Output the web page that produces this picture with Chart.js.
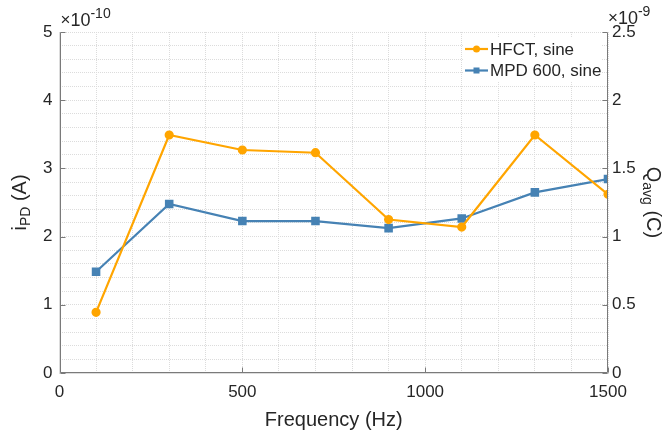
<!DOCTYPE html>
<html>
<head>
<meta charset="utf-8">
<script src="https://cdn.jsdelivr.net/npm/chart.js@4/dist/chart.umd.min.js"></script>
<style>
  html, body { margin: 0; padding: 0; background: #fff; }
</style>
</head>
<body>
<canvas id="chart" width="671" height="432"></canvas>
<script>
/* frequencies (Hz) */
const freqs = [100, 300, 500, 700, 900, 1100, 1300, 1500];
/* HFCT, sine: i_PD in units of 1e-10 A (left axis) */
const hfctValues = [0.89, 3.49, 3.27, 3.23, 2.25, 2.14, 3.49, 2.62];
/* MPD 600, sine: Q_avg in units of 1e-9 C (right axis) */
const mpdValues = [0.742, 1.239, 1.114, 1.114, 1.062, 1.133, 1.324, 1.422];

const seriesNames = ["HFCT, sine", "MPD 600, sine"];
const colors = { hfct: "#FFA500", mpd: "#4682B4" };

const FONT = "'Liberation Sans', Arial, sans-serif";
const TXT = "#262626";
const GRID = "#dcdcdc";
const AXIS = "#7a7a7a";

const isMult = (v, m) => Math.abs(v / m - Math.round(v / m)) < 1e-6;

/* draws axis lines, subscripts, exponents, inward ticks and the legend */
const extras = {
    id: "extras",
    afterDraw(chart) {
        const { ctx, chartArea: a, scales } = chart;
        ctx.save();
        ctx.fillStyle = TXT;
        ctx.textBaseline = "alphabetic";

        // solid axis lines + inward major ticks
        const L = Math.round(a.left) + 0.5, R = Math.round(a.right) - 0.5;
        const B = Math.round(a.bottom) - 0.5, T = Math.round(a.top) + 0.5;
        ctx.strokeStyle = AXIS;
        ctx.lineWidth = 1;
        ctx.beginPath();
        ctx.moveTo(L, T); ctx.lineTo(L, B); ctx.lineTo(R, B); ctx.lineTo(R, T);
        for (let v = 0; v <= 5; v++) {
            const y = Math.round(scales.yL.getPixelForValue(v)) + 0.5;
            ctx.moveTo(L, y); ctx.lineTo(L + 5, y);
        }
        for (let v = 0; v <= 2.5; v += 0.5) {
            const y = Math.round(scales.yR.getPixelForValue(v)) + 0.5;
            ctx.moveTo(R, y); ctx.lineTo(R - 5, y);
        }
        for (let v = 0; v <= 1500; v += 500) {
            const x = Math.round(scales.x.getPixelForValue(v)) + 0.5;
            ctx.moveTo(x, B); ctx.lineTo(x, B - 5);
        }
        ctx.stroke();

        // exponent labels
        const expo = (x, y, base, sup) => {
            ctx.textAlign = "left";
            ctx.font = "17px " + FONT;
            ctx.fillText("\u00d7", x, y - 1);
            let w = ctx.measureText("\u00d7").width;
            ctx.font = "18px " + FONT;
            ctx.fillText(base, x + w, y);
            w += ctx.measureText(base).width;
            ctx.font = "14px " + FONT;
            ctx.fillText(sup, x + w, y - 8);
        };
        expo(a.left + 1, a.top - 6, "10", "-10");
        expo(a.right, a.top - 8, "10", "-9");

        // axis titles with subscripts
        const subTitle = (cx, cy, rot, main, sub, rest) => {
            ctx.save();
            ctx.translate(cx, cy);
            ctx.rotate(rot);
            ctx.font = "20px " + FONT;
            const w1 = ctx.measureText(main).width;
            const w3 = ctx.measureText(rest).width;
            ctx.font = "14px " + FONT;
            const w2 = ctx.measureText(sub).width;
            let x = -(w1 + w2 + w3) / 2;
            ctx.textAlign = "left";
            ctx.textBaseline = "middle";
            ctx.font = "20px " + FONT;
            ctx.fillText(main, x, 0);
            x += w1;
            ctx.font = "14px " + FONT;
            ctx.fillText(sub, x, 6);
            x += w2;
            ctx.font = "20px " + FONT;
            ctx.fillText(rest, x, 0);
            ctx.restore();
        };
        const cy = (a.top + a.bottom) / 2;
        subTitle(20, cy, -Math.PI / 2, "i", "PD", " (A)");
        subTitle(653, cy, Math.PI / 2, "Q", "avg", " (C)");

        // legend
        const lx = 463, ly = 38;
        ctx.fillStyle = "#fff";
        ctx.fillRect(lx, ly, 138, 44);
        const items = [
            { name: seriesNames[0], color: colors.hfct, style: "circle" },
            { name: seriesNames[1], color: colors.mpd, style: "rect" },
        ];
        items.forEach((it, i) => {
            const y = 49 + i * 21.5;
            ctx.strokeStyle = it.color;
            ctx.lineWidth = 2.2;
            ctx.beginPath();
            ctx.moveTo(lx + 2, y); ctx.lineTo(lx + 25, y);
            ctx.stroke();
            ctx.fillStyle = it.color;
            if (it.style === "circle") {
                ctx.beginPath();
                ctx.arc(lx + 13.5, y, 3.5, 0, Math.PI * 2);
                ctx.fill();
            } else {
                ctx.fillRect(lx + 10.5, y - 3, 6, 6);
            }
            ctx.fillStyle = TXT;
            ctx.font = "17px " + FONT;
            ctx.textAlign = "left";
            ctx.textBaseline = "middle";
            ctx.fillText(it.name, lx + 27, y + 1);
        });
        ctx.restore();
    },
};

const ctx = document.getElementById("chart");

new Chart(ctx, {
    type: "line",
    data: {
        datasets: [
            {
                label: seriesNames[0],
                data: freqs.map((f, i) => ({ x: f, y: hfctValues[i] })),
                yAxisID: "yL",
                borderColor: colors.hfct,
                backgroundColor: colors.hfct,
                borderWidth: 2.2,
                pointStyle: "circle",
                pointRadius: 3.5,
                tension: 0,
            },
            {
                label: seriesNames[1],
                data: freqs.map((f, i) => ({ x: f, y: mpdValues[i] })),
                yAxisID: "yR",
                borderColor: colors.mpd,
                backgroundColor: colors.mpd,
                borderWidth: 2.2,
                pointStyle: "rect",
                pointRadius: 4.5,
                tension: 0,
            },
        ],
    },
    options: {
        responsive: false,
        animation: false,
        layout: { padding: { top: 32, left: 0, right: 0, bottom: 0 } },
        plugins: {
            legend: { display: false },
            tooltip: { enabled: false },
        },
        scales: {
            x: {
                type: "linear",
                min: 0,
                max: 1500,
                ticks: {
                    stepSize: 100,
                    autoSkip: false,
                    maxRotation: 0,
                    padding: 9,
                    color: TXT,
                    font: { family: FONT, size: 17 },
                    callback: (v) => (isMult(v, 500) ? v : ""),
                },
                grid: { color: GRID, drawTicks: false },
                border: { color: GRID, dash: [1, 1] },
                title: {
                    display: true,
                    text: "Frequency (Hz)",
                    color: TXT,
                    font: { family: FONT, size: 20 },
                    padding: { top: 0, bottom: 0 },
                },
                afterFit: (s) => { s.height = 59; },
            },
            yL: {
                position: "left",
                min: 0,
                max: 5,
                ticks: {
                    stepSize: 0.2,
                    autoSkip: false,
                    padding: 7,
                    color: TXT,
                    font: { family: FONT, size: 17 },
                    callback: (v) => (isMult(v, 1) ? Math.round(v) : ""),
                },
                grid: { color: GRID, drawTicks: false },
                border: { color: GRID, dash: [1, 1] },
                afterFit: (s) => { s.width = 59.5; },
            },
            yR: {
                position: "right",
                min: 0,
                max: 2.5,
                ticks: {
                    stepSize: 0.5,
                    padding: 4,
                    color: TXT,
                    font: { family: FONT, size: 17 },
                    callback: (v) => String(+v.toFixed(1)),
                },
                grid: { display: false, drawTicks: false },
                border: { display: false },
                afterFit: (s) => { s.width = 63; },
            },
        },
    },
    plugins: [extras],
});
</script>
</body>
</html>
